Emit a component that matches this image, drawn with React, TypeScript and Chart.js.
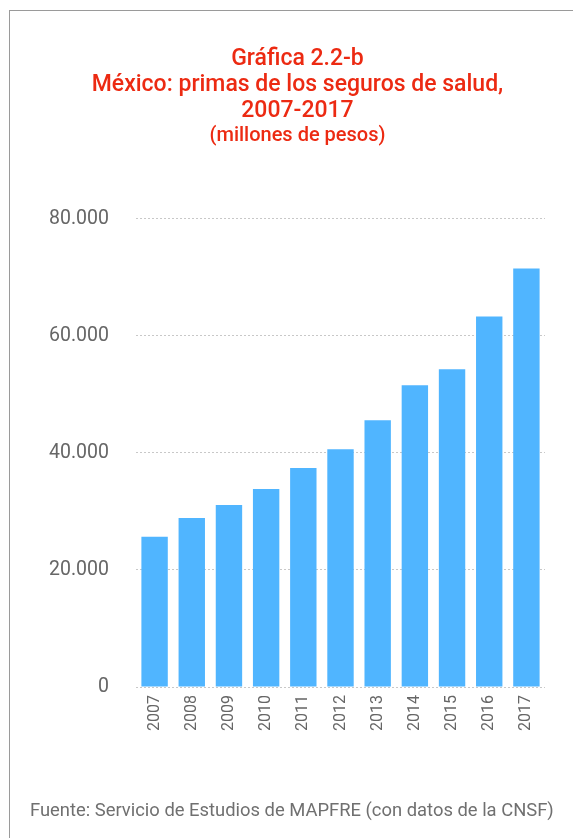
import React, { useEffect, useRef } from "react";
import { Chart, registerables } from "chart.js";

Chart.register(...registerables);

const years = ["2007", "2008", "2009", "2010", "2011", "2012", "2013", "2014", "2015", "2016", "2017"];
const primas = [25650, 28870, 31100, 33820, 37400, 40630, 45580, 51550, 54280, 63310, 71500];
const yTickLabels = ["0", "20.000", "40.000", "60.000", "80.000"];
const titleLines = ["Gráfica 2.2-b", "México: primas de los seguros de salud,", "2007-2017"];
const subtitleLine = "(millones de pesos)";
const sourceText = "Fuente: Servicio de Estudios de MAPFRE (con datos de la CNSF)";

export default function App() {
  const ref = useRef<HTMLCanvasElement | null>(null);

  useEffect(() => {
    if (!ref.current) return;
    const chart = new Chart(ref.current, {
      type: "bar",
      data: {
        labels: years,
        datasets: [
          {
            data: primas,
            backgroundColor: "#50b5ff",
            borderWidth: 0,
            categoryPercentage: 1,
            barPercentage: 0.71,
          },
        ],
      },
      options: {
        animation: false,
        responsive: true,
        maintainAspectRatio: false,
        layout: { padding: { top: 18, right: 28, left: 0, bottom: 0 } },
        plugins: { legend: { display: false }, tooltip: { enabled: false }, title: { display: false } },
        scales: {
          x: {
            grid: { display: false, drawTicks: false },
            border: { display: false },
            ticks: {
              minRotation: 90,
              maxRotation: 90,
              padding: 8,
              color: "#666",
              font: { family: "Roboto", size: 16, weight: "400" as any },
            },
            afterFit: (s: any) => {
              s.height = 60;
            },
          },
          y: {
            min: 0,
            max: 80000,
            grid: { color: "#c8c8c8", drawTicks: false, lineWidth: 1 },
            border: { display: false, dash: [2, 2] },
            ticks: {
              stepSize: 20000,
              padding: 27,
              color: "#666",
              font: { family: "Roboto", size: 19.5, weight: "400" as any },
              callback: (_v: any, i: number) => yTickLabels[i],
            },
            afterFit: (s: any) => {
              s.width = 126;
            },
          },
        },
      },
    });
    return () => chart.destroy();
  }, []);

  const lineStyle = (lh: number, fs: number): React.CSSProperties => ({
    lineHeight: lh + "px",
    fontSize: fs,
    whiteSpace: "nowrap",
  });

  return (
    <div>
      <div
        style={{
          position: "fixed",
          left: 9,
          top: 10,
          width: 564,
          height: 828,
          borderLeft: "1px solid #9a9a9a",
          borderTop: "1px solid #9a9a9a",
          boxSizing: "border-box",
          background: "#fff",
        }}
      />
      <div
        style={{
          position: "fixed",
          left: 0,
          top: 43.5,
          width: 595,
          textAlign: "center",
          color: "#ec2a12",
          fontFamily: "Roboto",
          fontWeight: 500,
        }}
      >
        <div style={lineStyle(27, 23)}>{titleLines[0]}</div>
        <div style={lineStyle(26, 23)}>{titleLines[1]}</div>
        <div style={lineStyle(26, 23)}>{titleLines[2]}</div>
        <div style={lineStyle(22, 20)}>{subtitleLine}</div>
      </div>
      <div style={{ position: "fixed", left: 10, top: 180, width: 563, height: 567 }}>
        <canvas ref={ref} />
      </div>
      <div
        style={{
          position: "fixed",
          left: 30,
          top: 798.5,
          color: "#707070",
          fontFamily: "Roboto",
          fontSize: 18.4,
          lineHeight: "22px",
          fontWeight: 400,
          whiteSpace: "nowrap",
        }}
      >
        {sourceText}
      </div>
    </div>
  );
}
